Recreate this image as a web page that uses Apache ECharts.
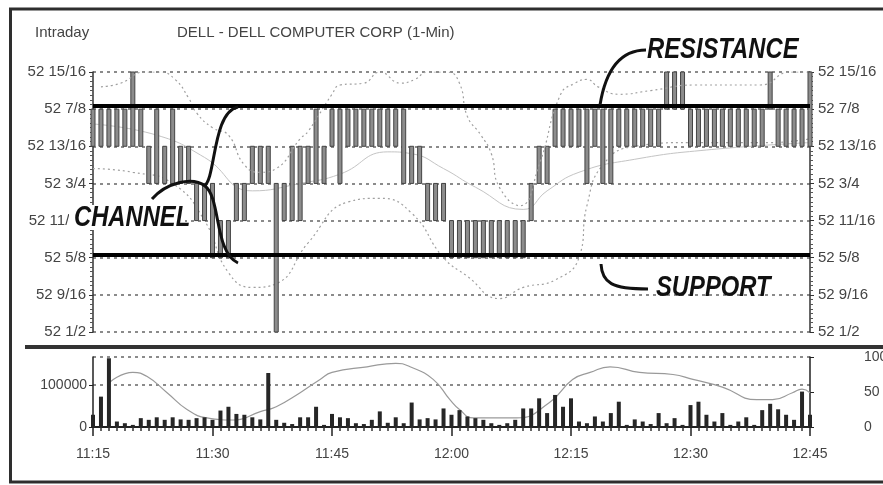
<!DOCTYPE html>
<html>
<head>
<meta charset="utf-8">
<title>DELL intraday</title>
<script src="https://cdn.jsdelivr.net/npm/echarts@6/dist/echarts.min.js"></script>
<style>
  html, body { margin: 0; padding: 0; background: #fff; }
  #chart { width: 883px; height: 485px; }
</style>
</head>
<body>
<div id="chart"></div>
<script>
// x axis: minutes after 11:15, one bar per minute
const timeLabels = ['11:15', '11:30', '11:45', '12:00', '12:15', '12:30', '12:45']
const priceLabelsLeft = ['52 1/2', '52 9/16', '52 5/8', '52 11/16', '52 3/4', '52 13/16', '52 7/8', '52 15/16']
const priceLabelsRight = ['52 1/2', '52 9/16', '52 5/8', '52 11/16', '52 3/4', '52 13/16', '52 7/8', '52 15/16']

// price bars, in sixteenths above 52
const barLow16 = [
  13, 13, 13, 13, 13, 13, 13, 12, 12, 12, 12, 12, 12, 11, 11, 10, 10, 10, 11, 11,
  12, 12, 12, 8, 11, 11, 11, 12, 12, 12, 13, 12, 13, 13, 13, 13, 13, 13, 13, 12,
  12, 12, 11, 11, 11, 10, 10, 10, 10, 10, 10, 10, 10, 10, 10, 11, 12, 12, 13, 13,
  13, 13, 12, 13, 12, 12, 13, 13, 13, 13, 13, 13, 14, 14, 14, 13, 13, 13, 13, 13,
  13, 13, 13, 13, 13, 14, 13, 13, 13, 13, 13
]
const barHigh16 = [
  14, 14, 14, 14, 14, 15, 14, 13, 14, 13, 14, 13, 13, 12, 12, 12, 11, 11, 12, 12,
  13, 13, 13, 12, 12, 13, 13, 13, 14, 13, 14, 14, 14, 14, 14, 14, 14, 14, 14, 14,
  13, 13, 12, 12, 12, 11, 11, 11, 11, 11, 11, 11, 11, 11, 11, 12, 13, 13, 14, 14,
  14, 14, 14, 14, 14, 14, 14, 14, 14, 14, 14, 14, 15, 15, 15, 14, 14, 14, 14, 14,
  14, 14, 14, 14, 14, 15, 14, 14, 14, 14, 15
]
const volume = [
  29000, 72000, 163000, 13000, 9000, 5000, 21000, 17000, 23000, 17000,
  23000, 18000, 17000, 21000, 23000, 17000, 39000, 48000, 31000, 29000,
  23000, 18000, 128000, 17000, 10000, 7000, 23000, 23000, 48000, 5000,
  31000, 23000, 21000, 9000, 7000, 17000, 37000, 10000, 23000, 9000,
  58000, 18000, 21000, 18000, 44000, 29000, 40000, 25000, 21000, 17000,
  9000, 5000, 9000, 17000, 44000, 44000, 68000, 33000, 76000, 48000,
  68000, 13000, 9000, 25000, 13000, 33000, 60000, 5000, 18000, 13000,
  7000, 33000, 9000, 21000, 5000, 52000, 60000, 29000, 13000, 33000,
  5000, 13000, 23000, 5000, 40000, 55000, 42000, 29000, 17000, 84000,
  29000
]

// bands round the price, [minute, sixteenths]
const upperBand = [[1, 14.6], [3.5, 14.7], [6.5, 15], [8.4, 15], [10.3, 14.8], [12, 14.3], [13, 13.9], [15, 13.5],
  [17, 13.3], [19, 12.5], [21, 12.3], [23, 12.4], [26, 13.2], [27, 13.4], [30, 14.4], [31, 14.65], [34, 14.7],
  [36, 15], [38.6, 14.7], [40.4, 14.8], [42, 15], [44.5, 15], [46, 14.7], [47, 13.8], [48.7, 13.3], [50, 12.8],
  [51, 11.9], [53.6, 11.4], [56, 12.5], [58.7, 14.4], [60.5, 14.7], [62, 14.8], [63.4, 14.6], [66, 14.4],
  [70, 14.5], [75.5, 14.65], [83.8, 14.65], [87.5, 15], [90, 15]]
const middleBand = [[0, 13.6], [8, 13.3], [14, 12.7], [20, 11.8], [26, 12.0], [31, 12.25], [37, 12.85], [40, 12.8],
  [44, 12.4], [48, 11.9], [54, 11.3], [57, 11.8], [61, 12.3], [68, 12.65], [77, 12.9], [90, 13.1]]
const lowerBand = [[0, 12.4], [5, 12.3], [10, 12.0], [14, 11.0], [17, 9.6], [20, 9.2], [23, 9.3], [27, 10.4],
  [32, 11.5], [36, 11.6], [40, 11.2], [44, 10.0], [47, 9.5], [51, 8.9], [54, 9.2], [58, 9.4], [61, 10.0],
  [62, 11.4], [64, 12.5], [68, 13.0], [75, 13.1], [85, 13.1], [90, 13.2]]

// oscillator under the volume, 0..100
const oscillator = [[2.1, 64], [5, 78], [6.8, 72], [9.3, 49], [11.8, 25], [14.3, 13], [17.6, 10], [21, 22],
  [23, 29], [26, 49], [28.5, 68], [30, 78], [34.4, 86], [38, 91], [39.8, 86], [42.7, 68], [44.8, 39], [46, 25],
  [47.7, 13], [53.2, 13], [57.3, 35], [60.2, 68], [62.4, 78], [64.9, 86], [68.6, 78], [72.8, 75], [75.3, 68],
  [79, 57], [83.3, 39], [85.3, 39], [87.8, 49], [89, 54], [90, 49]]

const resistance16 = 14
const support16 = 10

const p16 = s => 52 + s / 16
const priceIdx = v => Math.round((v - 52.5) / 0.0625)

const chart = echarts.init(document.getElementById('chart'), null, { renderer: 'canvas' })

const FONT = '"Liberation Sans", Arial, sans-serif'
const dashed = { color: '#666', width: 1.5, type: [3, 4] }

function renderBar(params, api) {
  const top = api.coord([api.value(0), api.value(2)])
  const bot = api.coord([api.value(0), api.value(1)])
  return {
    type: 'rect',
    shape: { x: top[0] - 2, y: top[1], width: 4, height: bot[1] - top[1] },
    style: { fill: '#8c8c8c', stroke: '#444', lineWidth: 1 }
  }
}

const option = {
  backgroundColor: '#fff',
  animation: false,
  textStyle: { fontFamily: FONT },
  title: [
    { text: 'Intraday', left: 30, top: 20, textStyle: { fontSize: 15, fontWeight: 'normal', color: '#444' } },
    { text: 'DELL - DELL COMPUTER CORP (1-Min)', left: 172, top: 20, textStyle: { fontSize: 15, fontWeight: 'normal', color: '#444' } }
  ],
  grid: [
    { left: 93, right: 73, top: 72, height: 260, outerBoundsMode: 'none' },
    { left: 93, right: 73, top: 357, height: 70, outerBoundsMode: 'none' }
  ],
  xAxis: [
    { type: 'value', gridIndex: 0, min: 0, max: 90, interval: 15, show: false },
    {
      type: 'value', gridIndex: 1, min: 0, max: 90, interval: 15,
      axisLine: { lineStyle: { color: '#222', width: 2 } },
      axisTick: { show: true, length: 9, lineStyle: { color: '#222', width: 1.5 } },
      minorTick: { show: true, splitNumber: 15, length: 4, lineStyle: { color: '#333', width: 1.5 } },
      splitLine: { show: false },
      axisLabel: { margin: 20, fontSize: 14, color: '#444', formatter: v => timeLabels[Math.round(v / 15)] }
    }
  ],
  yAxis: [
    {
      type: 'value', gridIndex: 0, min: 52.5, max: 52.9375, interval: 0.0625, position: 'left',
      axisLine: { show: true, lineStyle: { color: '#333', width: 1.5 } },
      axisTick: { show: true, length: 4, lineStyle: { color: '#333' } },
      minorTick: { show: true, splitNumber: 8, length: 3, lineStyle: { color: '#555' } },
      splitLine: { show: true, lineStyle: dashed },
      axisLabel: { margin: 7, fontSize: 15, color: '#444', formatter: v => priceLabelsLeft[priceIdx(v)] }
    },
    {
      type: 'value', gridIndex: 0, min: 52.5, max: 52.9375, interval: 0.0625, position: 'right',
      axisLine: { show: true, lineStyle: { color: '#333', width: 1.5 } },
      axisTick: { show: true, length: 4, lineStyle: { color: '#333' } },
      minorTick: { show: true, splitNumber: 8, length: 3, lineStyle: { color: '#555' } },
      splitLine: { show: false },
      axisLabel: { margin: 8, fontSize: 15, color: '#444', formatter: v => priceLabelsRight[priceIdx(v)] }
    },
    {
      type: 'value', gridIndex: 1, min: 0, max: 166000, interval: 100000, position: 'left',
      axisLine: { show: true, lineStyle: { color: '#222', width: 1.5 } },
      axisTick: { show: true, length: 4, lineStyle: { color: '#222' } },
      splitLine: { show: true, lineStyle: dashed },
      axisLabel: { margin: 6, fontSize: 14, color: '#444', showMaxLabel: false, formatter: v => String(v) }
    },
    {
      type: 'value', gridIndex: 1, min: 0, max: 100, interval: 50, position: 'right',
      axisLine: { show: true, lineStyle: { color: '#222', width: 1.5 } },
      axisTick: { show: true, length: 4, lineStyle: { color: '#222' } },
      splitLine: { show: false },
      axisLabel: { margin: 54, fontSize: 14, color: '#444' }
    }
  ],
  series: [
    {
      type: 'line', xAxisIndex: 0, yAxisIndex: 0, smooth: true, symbol: 'none', z: 1,
      lineStyle: { color: '#c4c4c4', width: 1 },
      data: middleBand.map(d => [d[0], p16(d[1])])
    },
    {
      type: 'line', xAxisIndex: 0, yAxisIndex: 0, smooth: true, symbol: 'none', z: 1,
      lineStyle: { color: '#a0a0a0', width: 1.2, type: [2, 3] },
      data: lowerBand.map(d => [d[0], p16(d[1])])
    },
    {
      type: 'custom', xAxisIndex: 0, yAxisIndex: 0, renderItem: renderBar, z: 2,
      encode: { x: 0, y: [1, 2] },
      data: barLow16.map((lo, i) => [i, p16(lo), p16(barHigh16[i])])
    },
    {
      type: 'line', xAxisIndex: 0, yAxisIndex: 0, smooth: true, symbol: 'none', z: 3,
      lineStyle: { color: '#a0a0a0', width: 1.2, type: [2, 3] },
      data: upperBand.map(d => [d[0], p16(d[1])]),
      markLine: {
        silent: true, symbol: 'none', label: { show: false },
        lineStyle: { color: '#000', width: 4, type: 'solid' },
        data: [{ yAxis: p16(resistance16) }, { yAxis: p16(support16) }]
      }
    },
    {
      type: 'line', xAxisIndex: 1, yAxisIndex: 3, smooth: true, symbol: 'none', z: 1,
      lineStyle: { color: '#9a9a9a', width: 1.2 },
      data: oscillator
    },
    {
      type: 'bar', xAxisIndex: 1, yAxisIndex: 2, barWidth: 4, z: 2,
      itemStyle: { color: '#262626' },
      data: volume.map((v, i) => [i, v])
    }
  ],
  graphic: [
    { type: 'rect', z: 100, shape: { x: 10.5, y: 9, width: 890, height: 473 }, style: { fill: null, stroke: '#2e2e2e', lineWidth: 3 } },
    { type: 'line', z: 100, shape: { x1: 25, y1: 347, x2: 883, y2: 347 }, style: { stroke: '#333', lineWidth: 4 } },
    // annotations
    { type: 'rect', z: 100, shape: { x: 69, y: 205, width: 116, height: 25 }, style: { fill: '#fff' } },
    {
      type: 'text', z: 101, x: 74, y: 218, scaleX: 0.82,
      style: { text: 'CHANNEL', font: 'italic bold 29px ' + FONT, fill: '#111', verticalAlign: 'middle' }
    },
    {
      type: 'text', z: 101, x: 647, y: 50, scaleX: 0.82,
      style: { text: 'RESISTANCE', font: 'italic bold 29px ' + FONT, fill: '#111', verticalAlign: 'middle' }
    },
    {
      type: 'text', z: 101, x: 656, y: 288, scaleX: 0.82,
      style: { text: 'SUPPORT', font: 'italic bold 29px ' + FONT, fill: '#111', verticalAlign: 'middle' }
    },
    { type: 'bezierCurve', z: 101, shape: { x1: 152, y1: 199, cpx1: 166, cpy1: 183, cpx2: 192, cpy2: 176, x2: 205, y2: 186 }, style: { stroke: '#111', lineWidth: 3, fill: null } },
    { type: 'bezierCurve', z: 101, shape: { x1: 205, y1: 186, cpx1: 221, cpy1: 198, cpx2: 214, cpy2: 252, x2: 238, y2: 263 }, style: { stroke: '#111', lineWidth: 3, fill: null } },
    { type: 'bezierCurve', z: 101, shape: { x1: 204, y1: 186, cpx1: 216, cpy1: 180, cpx2: 212, cpy2: 112, x2: 238, y2: 107 }, style: { stroke: '#111', lineWidth: 3, fill: null } },
    { type: 'bezierCurve', z: 101, shape: { x1: 646, y1: 50, cpx1: 622, cpy1: 50, cpx2: 606, cpy2: 68, x2: 600, y2: 105 }, style: { stroke: '#111', lineWidth: 3, fill: null } },
    { type: 'bezierCurve', z: 101, shape: { x1: 601, y1: 264, cpx1: 602, cpy1: 283, cpx2: 612, cpy2: 289, x2: 648, y2: 289 }, style: { stroke: '#111', lineWidth: 3, fill: null } }
  ]
}

chart.setOption(option)
window.addEventListener('resize', () => chart.resize())
</script>
</body>
</html>
